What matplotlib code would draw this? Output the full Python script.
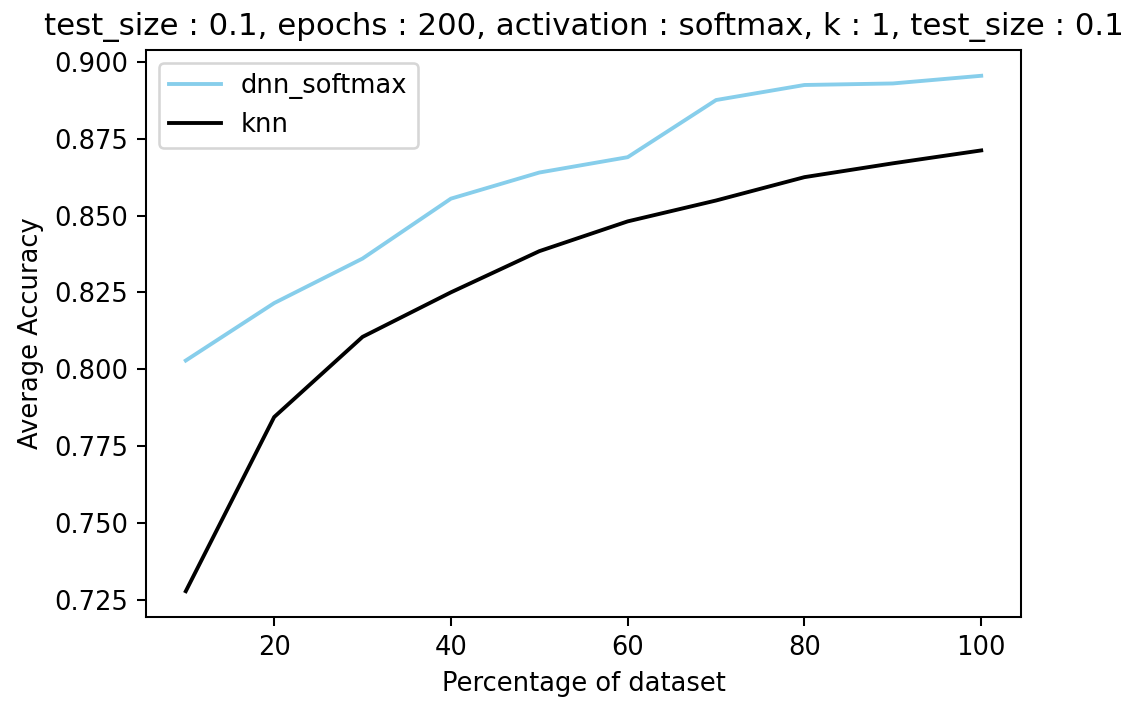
import matplotlib
matplotlib.use("Agg")
import matplotlib.pyplot as plt

percentages = [10, 20, 30, 40, 50, 60, 70, 80, 90, 100]
dnn_softmax = [0.8028, 0.8215, 0.8360, 0.8555, 0.8640, 0.8690, 0.8876, 0.8925, 0.8930, 0.8955]
knn = [0.7277, 0.7844, 0.8105, 0.8250, 0.8384, 0.8481, 0.8549, 0.8625, 0.8670, 0.8712]

fig = plt.figure(figsize=(1142 / 185, 704 / 185), dpi=185)
ax = fig.add_axes([146 / 1142, 87 / 704, 875 / 1142, 567 / 704])

ax.plot(percentages, dnn_softmax, color="skyblue", label="dnn_softmax")
ax.plot(percentages, knn, color="black", label="knn")

ax.set_xlabel("Percentage of dataset")
ax.set_ylabel("Average Accuracy")
ax.set_title("test_size : 0.1, epochs : 200, activation : softmax, k : 1, test_size : 0.1")
ax.legend(loc="upper left")

fig.savefig("out.png", dpi=185)
